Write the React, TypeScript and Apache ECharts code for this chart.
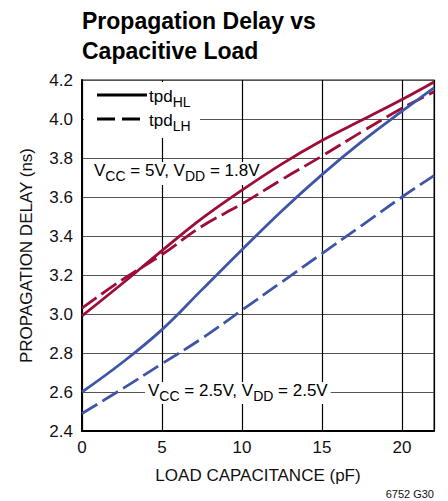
import React, { useEffect, useRef } from "react";
import * as echarts from "echarts";

const loadPF = [0, 2.5, 5, 7.5, 10, 12.5, 15, 17.5, 20, 22];
const tpdHL_5V = [2.99, 3.155, 3.325, 3.49, 3.635, 3.77, 3.89, 3.995, 4.1, 4.19];
const tpdLH_5V = [3.03, 3.175, 3.305, 3.45, 3.565, 3.69, 3.81, 3.935, 4.055, 4.14];
const tpdHL_25V = [2.6, 2.75, 2.92, 3.125, 3.33, 3.53, 3.715, 3.885, 4.04, 4.16];
const tpdLH_25V = [2.49, 2.615, 2.745, 2.875, 3.02, 3.165, 3.31, 3.455, 3.6, 3.71];

const RED = "#9E0C38";
const BLUE = "#3F55A8";
const FONT = "'Liberation Sans Narrow', 'Liberation Sans', Arial, sans-serif";

const pairs = (ys: number[]) => loadPF.map((x, i) => [x, ys[i]]);

export default function App() {
  const ref = useRef<HTMLDivElement>(null);
  useEffect(() => {
    if (!ref.current) return;
    const chart = echarts.init(ref.current, null, { renderer: "svg" });
    const richN = { fontSize: 17, fontFamily: FONT, color: "#111", lineHeight: 18, padding: [0, 0, 5, 0] };
    const richS = { fontSize: 14, fontFamily: FONT, color: "#111", lineHeight: 18, padding: [5, 0, 0, 0] };
    const line = (name: string, ys: number[], color: string, dashed: boolean) => ({
      name,
      type: "line",
      data: pairs(ys),
      smooth: 0.4,
      showSymbol: false,
      symbol: "none",
      z: 3,
      lineStyle: { color, width: 2.8, type: dashed ? [18, 6] : "solid" },
    });
    chart.setOption({
      animation: false,
      title: {
        text: "Propagation Delay vs\nCapacitive Load",
        left: 77,
        top: 1,
        textStyle: { fontFamily: FONT, fontSize: 23, fontWeight: "bold", color: "#000", lineHeight: 30 },
      },
      grid: { left: 82, right: 14, top: 80, bottom: 70, show: true, borderColor: "#666", borderWidth: 1.5 },
      xAxis: {
        type: "value",
        min: 0,
        max: 22,
        interval: 5,
        name: "LOAD CAPACITANCE (pF)",
        nameLocation: "middle",
        nameGap: 36,
        nameTextStyle: { fontFamily: FONT, fontSize: 17, color: "#111" },
        axisLine: { show: true, lineStyle: { color: "#000", width: 2 } },
        axisTick: { show: false },
        axisLabel: { fontFamily: FONT, fontSize: 17, color: "#111", margin: 8, showMaxLabel: false },
        splitLine: { show: true, lineStyle: { color: "#000", width: 1.2 } },
      },
      yAxis: {
        type: "value",
        min: 2.4,
        max: 4.2,
        interval: 0.2,
        name: "PROPAGATION DELAY (ns)",
        nameLocation: "middle",
        nameGap: 47,
        nameTextStyle: { fontFamily: FONT, fontSize: 17, color: "#111" },
        axisLine: { show: true, lineStyle: { color: "#000", width: 2 } },
        axisTick: { show: false },
        axisLabel: {
          fontFamily: FONT,
          fontSize: 17,
          color: "#111",
          margin: 9,
          formatter: (v: number) => v.toFixed(1),
        },
        splitLine: { show: true, lineStyle: { color: "#555", width: 1.2 } },
      },
      graphic: [
        { type: "rect", z: 1, shape: { x: 84, y: 82, width: 116, height: 56 }, style: { fill: "#fff" } },
        { type: "line", z: 1, shape: { x1: 97, y1: 95, x2: 147, y2: 95 }, style: { stroke: "#000", lineWidth: 3 } },
        {
          type: "line",
          z: 1,
          shape: { x1: 97, y1: 119, x2: 147, y2: 119 },
          style: { stroke: "#000", lineWidth: 3, lineDash: [18, 7] },
        },
        {
          type: "text",
          z: 1,
          x: 149,
          y: 90,
          style: { text: "{n|tpd}{s|HL}", rich: { n: richN, s: richS } },
        },
        {
          type: "text",
          z: 1,
          x: 149,
          y: 114,
          style: { text: "{n|tpd}{s|LH}", rich: { n: richN, s: richS } },
        },
        {
          type: "text",
          z: 1,
          x: 91,
          y: 162,
          style: {
            text: "{n|V}{s|CC}{n| = 5V, V}{s|DD}{n| = 1.8V}",
            rich: { n: richN, s: richS },
            backgroundColor: "#fff",
            padding: [2, 3, 3, 3],
          },
        },
        {
          type: "text",
          z: 1,
          x: 145,
          y: 382,
          style: {
            text: "{n|V}{s|CC}{n| = 2.5V, V}{s|DD}{n| = 2.5V}",
            rich: { n: richN, s: richS },
            backgroundColor: "#fff",
            padding: [2, 3, 2, 3],
          },
        },
        {
          type: "text",
          z: 1,
          x: 434,
          y: 488,
          style: { text: "6752 G30", fontFamily: FONT, fontSize: 11, fill: "#111", align: "right" },
        },
      ],
      series: [
        line("tpdHL 5V", tpdHL_5V, RED, false),
        line("tpdLH 5V", tpdLH_5V, RED, true),
        line("tpdHL 2.5V", tpdHL_25V, BLUE, false),
        line("tpdLH 2.5V", tpdLH_25V, BLUE, true),
      ],
    });
    return () => chart.dispose();
  }, []);
  return <div ref={ref} style={{ position: "fixed", left: 0, top: 0, width: 448, height: 501, background: "#fff" }} />;
}
